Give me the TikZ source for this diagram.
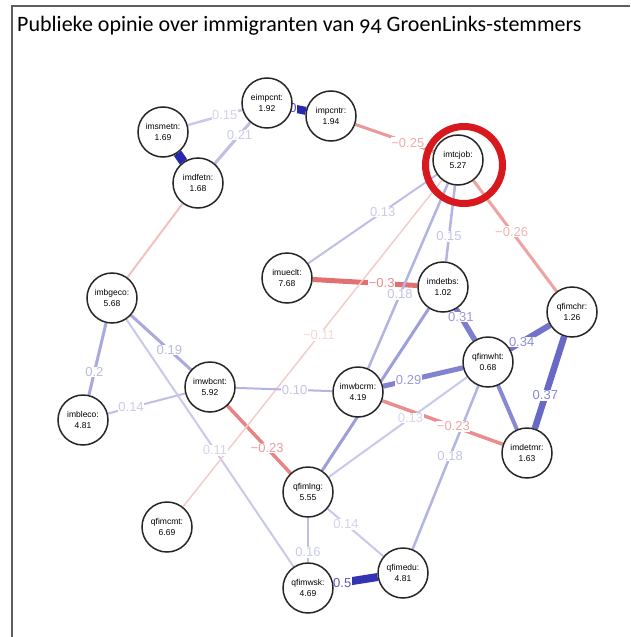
\documentclass[tikz,border=0pt]{standalone}
\usepackage{fontspec}
\setmainfont{Liberation Sans}
\newfontfamily\titlefont[Numbers=OldStyle]{Carlito}
\pgfdeclarelayer{bg}
\pgfdeclarelayer{edges}
\pgfdeclarelayer{labels}
\pgfsetlayers{bg,edges,labels,main}
\definecolor{posc}{RGB}{40,40,175}
\definecolor{negc}{RGB}{215,50,50}
\definecolor{ringred}{RGB}{215,25,30}
\definecolor{framec}{RGB}{95,95,95}
% weighted edge with a label placed along it
\newcommand{\Edge}[6]{%
  \begin{pgfonlayer}{edges}
    \draw[wedge, line width=#4pt, draw=#3] (#1) -- (#2) coordinate[pos=#5] (lp);
  \end{pgfonlayer}
  \begin{pgfonlayer}{labels}
    \node[lab, text=#3!80!white] at (lp) {#6};
  \end{pgfonlayer}}
% weighted edge without a visible label
\newcommand{\EdgeN}[4]{%
  \begin{pgfonlayer}{edges}
    \draw[wedge, line width=#4pt, draw=#3] (#1) -- (#2);
  \end{pgfonlayer}}
\begin{document}
\begin{tikzpicture}[x=1pt,y=-1pt,
  vn/.style={circle, draw=black!85, line width=1.5pt, fill=white,
    minimum size=50pt, inner sep=0pt, align=center,
    font=\fontsize{8.5}{11}\selectfont},
  lab/.style={fill=white, inner sep=0.6pt, font=\fontsize{13}{13}\selectfont},
  wedge/.style={line cap=butt},
  framestyle/.style={draw=framec, line width=1.2pt},
  ringstyle/.style={circle, draw=ringred, line width=7pt, minimum size=77pt, inner sep=0pt}]
\useasboundingbox (0,0) rectangle (630,637);
\begin{pgfonlayer}{bg}
  \fill[white] (0,0) rectangle (630,637);
\end{pgfonlayer}
\draw[framestyle] (12,637) -- (12,6) -- (630,6);
\node[anchor=base west, inner sep=0pt, font=\titlefont\fontsize{22}{26}\selectfont] (title) at (17,31) {Publieke opinie over immigranten van 94 GroenLinks-stemmers};

% variables
\node[vn] (imsmetn) at (163,132) {imsmetn:\\1.69};
\node[vn] (eimpcnt) at (267,103) {eimpcnt:\\1.92};
\node[vn] (impcntr) at (331,116) {impcntr:\\1.94};
\node[vn] (imdfetn) at (198,183) {imdfetn:\\1.68};
\node[vn] (imtcjob) at (458,160) {imtcjob:\\5.27};
\node[vn] (imueclt) at (287,278) {imueclt:\\7.68};
\node[vn] (imdetbs) at (443,287) {imdetbs:\\1.02};
\node[vn] (qfimchr) at (572,312) {qfimchr:\\1.26};
\node[vn] (qfimwht) at (488,362) {qfimwht:\\0.68};
\node[vn] (imdetmr) at (527,453) {imdetmr:\\1.63};
\node[vn] (imbgeco) at (112,298) {imbgeco:\\5.68};
\node[vn] (imbleco) at (83,420) {imbleco:\\4.81};
\node[vn] (imwbcnt) at (210,387) {imwbcnt:\\5.92};
\node[vn] (imwbcrm) at (358,392) {imwbcrm:\\4.19};
\node[vn] (qfimlng) at (308,492) {qfimlng:\\5.55};
\node[vn] (qfimcmt) at (167,527) {qfimcmt:\\6.69};
\node[vn] (qfimwsk) at (308,588) {qfimwsk:\\4.69};
\node[vn] (qfimedu) at (403,573) {qfimedu:\\4.81};

% edges
\EdgeN{imsmetn}{imdfetn}{posc}{9}
\Edge{eimpcnt}{impcntr}{posc}{8}{0.05}{0}
\Edge{qfimwsk}{qfimedu}{posc!95!white}{8}{0.2}{0.5}
\Edge{qfimchr}{imdetmr}{posc!70!white}{6.5}{0.64}{0.37}
\Edge{qfimchr}{qfimwht}{posc!65!white}{6}{0.71}{0.34}
\Edge{imdetbs}{qfimwht}{posc!60!white}{5.5}{0.25}{0.31}
\Edge{qfimwht}{imwbcrm}{posc!58!white}{5}{0.68}{0.29}
\EdgeN{qfimwht}{imdetmr}{posc!55!white}{4}
\EdgeN{imdetbs}{qfimlng}{posc!45!white}{3}
\Edge{imueclt}{imdetbs}{negc!70!white}{5}{0.66}{−0.3}
\Edge{impcntr}{imtcjob}{negc!50!white}{3}{0.67}{−0.25}
\Edge{imtcjob}{qfimchr}{negc!45!white}{3}{0.46}{−0.26}
\Edge{imwbcrm}{imdetmr}{negc!55!white}{3.5}{0.59}{−0.23}
\Edge{imwbcnt}{qfimlng}{negc!60!white}{3.5}{0.63}{−0.23}
\Edge{imbgeco}{imbleco}{posc!40!white}{3}{0.68}{0.2}
\Edge{imwbcnt}{imbgeco}{posc!40!white}{3}{0.36}{0.19}
\Edge{imtcjob}{imwbcrm}{posc!35!white}{2.5}{0.6}{0.18}
\Edge{qfimwht}{qfimedu}{posc!35!white}{2.5}{0.43}{0.18}
\Edge{qfimlng}{qfimwsk}{posc!30!white}{2.5}{0.78}{0.16}
\Edge{imsmetn}{eimpcnt}{posc!25!white}{2.5}{0.68}{0.15}
\Edge{eimpcnt}{imdfetn}{posc!30!white}{3}{0.30}{0.21}
\Edge{imtcjob}{imdetbs}{posc!35!white}{2.5}{0.67}{0.15}
\Edge{imwbcnt}{imbleco}{posc!30!white}{2}{0.70}{0.14}
\Edge{qfimlng}{qfimedu}{posc!25!white}{2}{0.33}{0.14}
\Edge{imtcjob}{imueclt}{posc!30!white}{2}{0.42}{0.13}
\Edge{qfimwht}{qfimlng}{posc!25!white}{2}{0.41}{0.13}
\Edge{imbgeco}{qfimwsk}{posc!25!white}{2}{0.53}{0.11}
\Edge{imtcjob}{qfimcmt}{negc!25!white}{1.5}{0.475}{−0.11}
\Edge{imwbcrm}{imwbcnt}{posc!35!white}{2}{0.39}{0.10}
\EdgeN{imdfetn}{imbgeco}{negc!30!white}{2}

% highlight
\node[ringstyle] (ring) at (464,165) {};
\end{tikzpicture}
\end{document}
